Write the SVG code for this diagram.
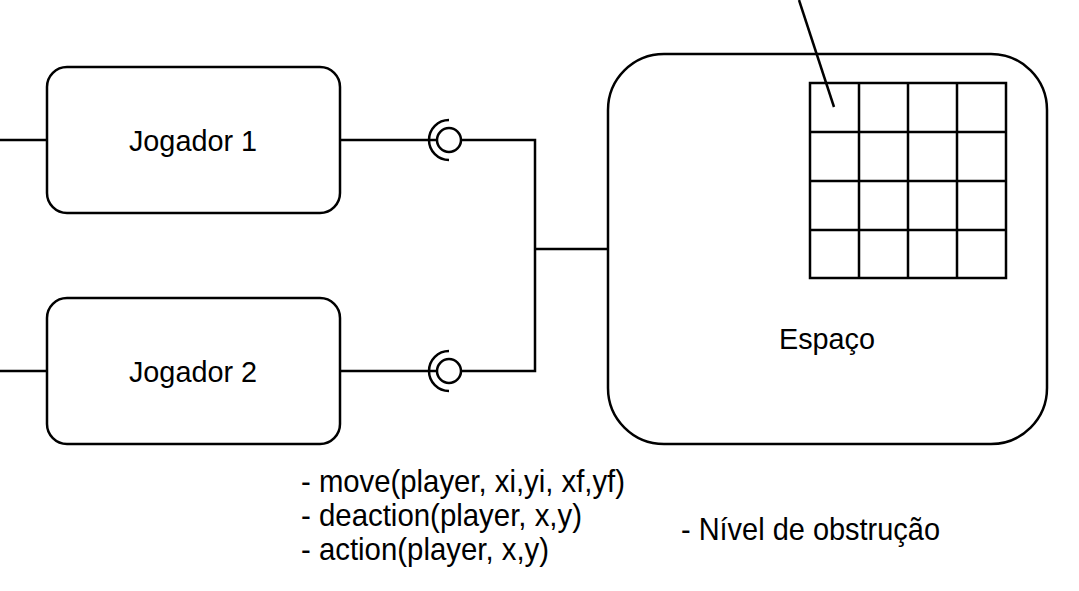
<svg xmlns="http://www.w3.org/2000/svg" width="1079" height="591" viewBox="0 0 1079 591">
<style>
.box{fill:#fff;stroke:#000;stroke-width:2.5}
.ln{fill:none;stroke:#000;stroke-width:2.5}
.lbl{font-family:"Liberation Sans",Arial,sans-serif;font-size:28.8px;fill:#000}
.note{font-family:"Liberation Sans",Arial,sans-serif;font-size:32px;fill:#000}
</style>
<rect width="1079" height="591" fill="#fff"/>
<g id="socket1">
<circle class="ln" cx="449" cy="140" r="12"/>
<path class="ln" d="M449,120 A20,20 0 0 0 449,160"/>
</g>
<g id="socket2">
<circle class="ln" cx="449" cy="371" r="12"/>
<path class="ln" d="M449,351 A20,20 0 0 0 449,391"/>
</g>
<g id="jogador1">
<rect class="box" x="47" y="67" width="293" height="146" rx="20"/>
<text class="lbl" x="193" y="151" text-anchor="middle">Jogador 1</text>
</g>
<g id="jogador2">
<rect class="box" x="47" y="298" width="293" height="146" rx="20"/>
<text class="lbl" x="193" y="382" text-anchor="middle">Jogador 2</text>
</g>
<g id="espaco">
<rect class="box" x="608" y="54" width="439" height="390" rx="56"/>
<text class="lbl" x="827" y="349" text-anchor="middle">Espaço</text>
</g>
<g id="grid">
<rect class="ln" x="810" y="83" width="196" height="195"/>
<path class="ln" d="M859,83V278M908,83V278M957,83V278M810,132H1006M810,181H1006M810,230H1006"/>
</g>
<g id="connectors">
<line class="ln" x1="0" y1="140" x2="47" y2="140"/>
<line class="ln" x1="0" y1="371" x2="47" y2="371"/>
<line class="ln" x1="340" y1="140" x2="437" y2="140"/>
<line class="ln" x1="340" y1="371" x2="437" y2="371"/>
<polyline class="ln" points="461,140 535,140 535,371 461,371"/>
<line class="ln" x1="535" y1="249" x2="608" y2="249"/>
<line class="ln" x1="799" y1="0" x2="834" y2="107"/>
</g>
<g id="notes">
<text class="note" x="301" y="492" textLength="324" lengthAdjust="spacingAndGlyphs">- move(player, xi,yi, xf,yf)</text>
<text class="note" x="301" y="526" textLength="281" lengthAdjust="spacingAndGlyphs">- deaction(player, x,y)</text>
<text class="note" x="301" y="560" textLength="248" lengthAdjust="spacingAndGlyphs">- action(player, x,y)</text>
<text class="note" x="681" y="540" textLength="259" lengthAdjust="spacingAndGlyphs">- Nível de obstrução</text>
</g>
</svg>
